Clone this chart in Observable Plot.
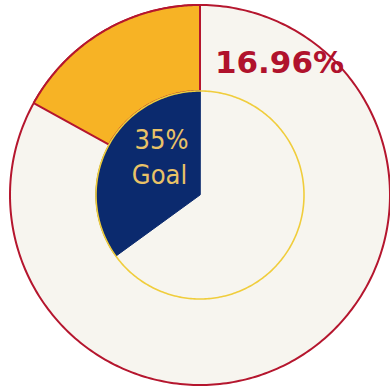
<!DOCTYPE html>
<html>
<head>
<meta charset="utf-8">
<script src="https://cdn.jsdelivr.net/npm/d3@7"></script>
<script src="https://cdn.jsdelivr.net/npm/@observablehq/plot@0.6"></script>
<style>
  html, body { margin: 0; padding: 0; background: #ffffff; }
  #chart svg { display: block; }
</style>
</head>
<body>
<div id="chart"></div>
<script>
// ---- data ----
const series = ["Actual", "Goal"];
const values = [16.96, 35];            // percent
const labels = ["16.96%", "35%"];
const goalWord = ["Goal"];

// ---- layout (pixels) ----
const W = 390, H = 386;
const CX = 199.5, CY = 194.5;
const R_OUT = 190, R_IN = 104;

// angle (clockwise from north, radians); negative = counter-clockwise
function pt(r, a) { return [r * Math.sin(a), r * Math.cos(a)]; }
function ring(r, id) {
  const pts = [];
  for (let i = 0; i < 360; i++) { const [x, y] = pt(r, i / 360 * 2 * Math.PI); pts.push({x, y, id}); }
  return pts;
}
function sector(r0, r1, pct, id) {
  const a1 = -pct / 100 * 2 * Math.PI;
  const n = 120, pts = [];
  for (let i = 0; i <= n; i++) { const [x, y] = pt(r1, a1 * i / n); pts.push({x, y, id}); }
  if (r0 === 0) pts.push({x: 0, y: 0, id});
  else for (let i = n; i >= 0; i--) { const [x, y] = pt(r0, a1 * i / n); pts.push({x, y, id}); }
  return pts;
}

const outerDisc = ring(R_OUT, "outer");
const actualSector = sector(R_IN, R_OUT, values[0], series[0]);
const goalSector = sector(0, R_IN, values[1], series[1]);
const innerRing = ring(R_IN, "inner");

const chart = Plot.plot({
  width: W, height: H,
  margin: 0,
  x: {domain: [-CX, W - CX], range: [0, W], axis: null},
  y: {domain: [-(H - CY), CY], range: [H, 0], axis: null},
  style: {background: "#ffffff", overflow: "visible"},
  marks: [
    Plot.line(outerDisc, {x: "x", y: "y", curve: "linear-closed", fill: "#f7f5ef", stroke: "#b5162e", strokeWidth: 2}),
    Plot.line(actualSector, {x: "x", y: "y", curve: "linear-closed", fill: "#f7b325", stroke: "#b5162e", strokeWidth: 2, strokeLinejoin: "miter"}),
    Plot.line(goalSector, {x: "x", y: "y", curve: "linear-closed", fill: "#0b2a6e", stroke: "#0b2a6e", strokeWidth: 1}),
    Plot.line(innerRing, {x: "x", y: "y", curve: "linear-closed", fill: "none", stroke: "#f0cd3c", strokeWidth: 1.6}),
    Plot.text([labels[0]], {x: [79.5], y: [131.5], text: d => d, fill: "#b0122c", fontSize: 31, fontWeight: "bold", fontFamily: "DejaVu Sans", textAnchor: "middle", lineAnchor: "middle"}),
    Plot.text([labels[1]], {x: [-38.5], y: [54.5], text: d => d, fill: "#e9c267", fontSize: 27, fontWeight: 500, fontFamily: "DejaVu Sans Condensed", fontStretch: "condensed", textAnchor: "middle", lineAnchor: "middle"}),
    Plot.text(goalWord, {x: [-40.5], y: [19.5], text: d => d, fill: "#e9c267", fontSize: 27, fontWeight: 500, fontFamily: "DejaVu Sans Condensed", fontStretch: "condensed", textAnchor: "middle", lineAnchor: "middle"})
  ]
});
document.getElementById("chart").appendChild(chart);
</script>
</body>
</html>
